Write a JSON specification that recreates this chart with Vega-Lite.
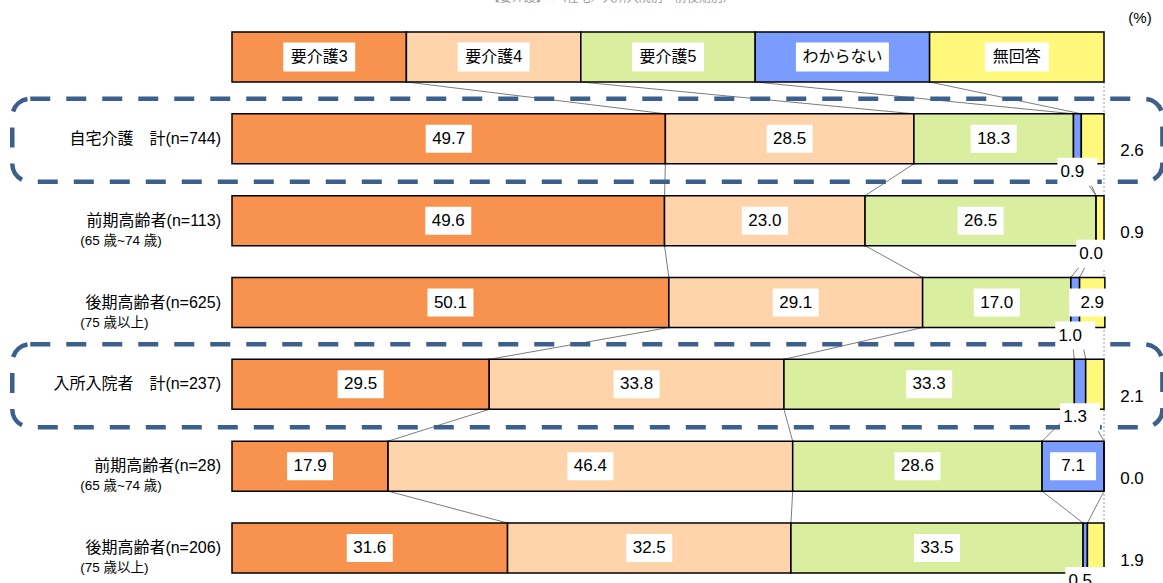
{
  "$schema": "https://vega.github.io/schema/vega-lite/v6.json",
  "width": 872,
  "height": 561,
  "autosize": {"type": "none"},
  "padding": {"left": 232, "right": 59, "top": 22, "bottom": 0},
  "background": "white",
  "config": {
    "view": {"stroke": null},
    "axis": {"disable": true},
    "text": {"font": "Liberation Sans, Noto Sans CJK JP", "color": "#000"}
  },
  "datasets": {
    "rows": [
      {"i": 0, "row": "凡例", "sub": "", "要介護3": 20, "要介護4": 20, "要介護5": 20, "わからない": 20, "無回答": 20},
      {"i": 1, "row": "自宅介護　計(n=744)", "sub": "", "要介護3": 49.7, "要介護4": 28.5, "要介護5": 18.3, "わからない": 0.9, "無回答": 2.6},
      {"i": 2, "row": "前期高齢者(n=113)", "sub": "(65 歳~74 歳)", "要介護3": 49.6, "要介護4": 23.0, "要介護5": 26.5, "わからない": 0.0, "無回答": 0.9},
      {"i": 3, "row": "後期高齢者(n=625)", "sub": "(75 歳以上)", "要介護3": 50.1, "要介護4": 29.1, "要介護5": 17.0, "わからない": 1.0, "無回答": 2.9},
      {"i": 4, "row": "入所入院者　計(n=237)", "sub": "", "要介護3": 29.5, "要介護4": 33.8, "要介護5": 33.3, "わからない": 1.3, "無回答": 2.1},
      {"i": 5, "row": "前期高齢者(n=28)", "sub": "(65 歳~74 歳)", "要介護3": 17.9, "要介護4": 46.4, "要介護5": 28.6, "わからない": 7.1, "無回答": 0.0},
      {"i": 6, "row": "後期高齢者(n=206)", "sub": "(75 歳以上)", "要介護3": 31.6, "要介護4": 32.5, "要介護5": 33.5, "わからない": 0.5, "無回答": 1.9}
    ]
  },
  "data": {"name": "rows"},
  "transform": [
    {"fold": ["要介護3", "要介護4", "要介護5", "わからない", "無回答"], "as": ["cat", "value"]},
    {"window": [{"op": "row_number", "as": "k"}], "groupby": ["row"]}
  ],
  "layer": [
    {
      "transform": [
        {"stack": "value", "groupby": ["row"], "sort": [{"field": "k", "order": "ascending"}], "as": ["x0", "x1"]},
        {"window": [{"op": "lead", "field": "x1", "as": "nx1"}, {"op": "lead", "field": "row", "as": "nrow"}], "groupby": ["cat"], "sort": [{"field": "i", "order": "ascending"}]},
        {"filter": "datum.k < 5 && datum.nrow != null"}
      ],
      "mark": {"type": "rule", "color": "#444444", "strokeWidth": 0.7},
      "encoding": {
        "x": {"field": "x1", "type": "quantitative", "scale": {"domain": [0, 100], "nice": false, "zero": false}, "axis": null},
        "x2": {"field": "nx1"},
        "y": {"field": "row", "type": "nominal", "bandPosition": 1, "axis": null},
        "y2": {"field": "nrow", "bandPosition": 0}
      }
    },
    {
      "transform": [{"filter": "datum.k == 1 && datum.i == 0"}],
      "mark": {"type": "rule", "color": "#999999", "strokeWidth": 1, "strokeDash": [2, 2]},
      "encoding": {
        "x": {"datum": 100, "type": "quantitative", "scale": {"domain": [0, 100], "nice": false, "zero": false}, "axis": null},
        "y": {"datum": "凡例", "type": "nominal", "bandPosition": 1, "axis": null},
        "y2": {"datum": "後期高齢者(n=206)", "bandPosition": 1.2}
      }
    },
    {
      "mark": {"type": "bar", "stroke": "black", "strokeWidth": 1.5},
      "encoding": {
        "x": {"field": "value", "type": "quantitative", "stack": "zero", "scale": {"domain": [0, 100], "nice": false, "zero": false}, "axis": null},
        "y": {"field": "row", "type": "nominal", "axis": null,
          "scale": {"domain": ["凡例", "自宅介護　計(n=744)", "前期高齢者(n=113)", "後期高齢者(n=625)", "入所入院者　計(n=237)", "前期高齢者(n=28)", "後期高齢者(n=206)"], "paddingInner": 0.389, "paddingOuter": 0.122}},
        "color": {"field": "cat", "type": "nominal", "legend": null,
          "scale": {"domain": ["要介護3", "要介護4", "要介護5", "わからない", "無回答"], "range": ["#F7924F", "#FFD4AA", "#D9EE9E", "#7B9CFF", "#FFF87A"]}},
        "order": {"field": "k", "type": "quantitative"}
      }
    },
    {
      "transform": [{"filter": "datum.k == 1 && indexof(datum.row, '計') >= 0"}],
      "mark": {"type": "rect", "filled": false, "stroke": "#3C5F8C", "strokeWidth": 4.5, "strokeDash": [20, 16], "cornerRadius": 18},
      "encoding": {
        "x": {"datum": -25.2, "type": "quantitative", "scale": {"domain": [0, 100], "nice": false, "zero": false}, "axis": null},
        "x2": {"datum": 106.7},
        "y": {"field": "row", "type": "nominal", "bandPosition": -0.3, "axis": null},
        "y2": {"field": "row", "bandPosition": 1.36}
      }
    },
    {
      "transform": [{"filter": "datum.row == '凡例'"}],
      "mark": {"type": "point", "filled": true, "color": "white", "opacity": 1, "strokeWidth": 0, "size": 8649},
      "encoding": {
        "x": {"field": "value", "type": "quantitative", "stack": "zero", "bandPosition": 0.5, "scale": {"domain": [0, 100], "nice": false, "zero": false}, "axis": null},
        "y": {"field": "row", "type": "nominal", "axis": null},
        "detail": {"field": "cat"},
        "order": {"field": "k", "type": "quantitative"},
        "shape": {"field": "cat", "type": "nominal", "legend": null,
          "scale": {"domain": ["要介護3", "要介護4", "要介護5", "わからない", "無回答"],
            "range": ["M-0.774,-0.312H0.774V0.312H-0.774Z", "M-0.774,-0.312H0.774V0.312H-0.774Z", "M-0.774,-0.312H0.774V0.312H-0.774Z", "M-1,-0.312H1V0.312H-1Z", "M-0.688,-0.312H0.688V0.312H-0.688Z"]}}
      }
    },
    {
      "transform": [{"filter": "datum.row == '凡例'"}],
      "mark": {"type": "text", "fontSize": 16, "align": "center", "baseline": "middle"},
      "encoding": {
        "x": {"field": "value", "type": "quantitative", "stack": "zero", "bandPosition": 0.5, "scale": {"domain": [0, 100], "nice": false, "zero": false}, "axis": null},
        "y": {"field": "row", "type": "nominal", "axis": null},
        "detail": {"field": "cat"},
        "order": {"field": "k", "type": "quantitative"},
        "text": {"field": "cat"}
      }
    },
    {
      "transform": [{"filter": "datum.row != '凡例'"}],
      "mark": {"type": "point", "filled": true, "color": "white", "strokeWidth": 0, "size": 2116, "shape": "M-1,-0.609H1V0.609H-1Z"},
      "encoding": {
        "x": {"field": "value", "type": "quantitative", "stack": "zero", "bandPosition": 0.5, "scale": {"domain": [0, 100], "nice": false, "zero": false}, "axis": null},
        "y": {"field": "row", "type": "nominal", "axis": null},
        "detail": {"field": "cat"},
        "order": {"field": "k", "type": "quantitative"},
        "opacity": {"condition": {"test": "datum.value >= 5 || (datum.row == '後期高齢者(n=625)' && datum.cat == '無回答')", "value": 1}, "value": 0}
      }
    },
    {
      "transform": [{"filter": "datum.row != '凡例'"}],
      "mark": {"type": "text", "fontSize": 17, "align": "center", "baseline": "middle"},
      "encoding": {
        "x": {"field": "value", "type": "quantitative", "stack": "zero", "bandPosition": 0.5, "scale": {"domain": [0, 100], "nice": false, "zero": false}, "axis": null},
        "y": {"field": "row", "type": "nominal", "axis": null},
        "detail": {"field": "cat"},
        "order": {"field": "k", "type": "quantitative"},
        "text": {"condition": {"test": "datum.value >= 5 || (datum.row == '後期高齢者(n=625)' && datum.cat == '無回答')", "field": "value", "type": "quantitative", "format": ".1f"}, "value": ""}
      }
    },
    {
      "transform": [{"filter": "datum.row != '凡例'"}],
      "mark": {"type": "point", "filled": true, "color": "white", "strokeWidth": 0, "size": 1600, "shape": "M-1,-0.7H1V0.7H-1Z", "dx": -5},
      "encoding": {
        "x": {"field": "value", "type": "quantitative", "stack": "zero", "bandPosition": 0.5, "scale": {"domain": [0, 100], "nice": false, "zero": false}, "axis": null},
        "y": {"field": "row", "type": "nominal", "bandPosition": 1.16, "axis": null},
        "detail": {"field": "cat"},
        "order": {"field": "k", "type": "quantitative"},
        "opacity": {"condition": {"test": "datum.cat == 'わからない' && datum.value < 5", "value": 1}, "value": 0}
      }
    },
    {
      "transform": [{"filter": "datum.row != '凡例'"}],
      "mark": {"type": "text", "fontSize": 17, "align": "center", "baseline": "middle", "dx": -5},
      "encoding": {
        "x": {"field": "value", "type": "quantitative", "stack": "zero", "bandPosition": 0.5, "scale": {"domain": [0, 100], "nice": false, "zero": false}, "axis": null},
        "y": {"field": "row", "type": "nominal", "bandPosition": 1.16, "axis": null},
        "detail": {"field": "cat"},
        "order": {"field": "k", "type": "quantitative"},
        "text": {"condition": {"test": "datum.cat == 'わからない' && datum.value < 5", "field": "value", "type": "quantitative", "format": ".1f"}, "value": ""}
      }
    },
    {
      "transform": [{"filter": "datum.cat == '無回答' && datum.row != '凡例' && datum.row != '後期高齢者(n=625)'"}],
      "mark": {"type": "text", "fontSize": 17, "align": "center", "baseline": "middle", "dx": 28},
      "encoding": {
        "x": {"datum": 100, "type": "quantitative", "scale": {"domain": [0, 100], "nice": false, "zero": false}, "axis": null},
        "y": {"field": "row", "type": "nominal", "bandPosition": 0.75, "axis": null},
        "text": {"field": "value", "type": "quantitative", "format": ".1f"}
      }
    },
    {
      "transform": [{"filter": "datum.k == 1 && datum.row != '凡例'"}],
      "mark": {"type": "text", "fontSize": 16, "align": "right", "baseline": "middle", "dx": -11},
      "encoding": {
        "x": {"datum": 0, "type": "quantitative", "scale": {"domain": [0, 100], "nice": false, "zero": false}, "axis": null},
        "y": {"field": "row", "type": "nominal", "axis": null},
        "text": {"field": "row"}
      }
    },
    {
      "transform": [{"filter": "datum.k == 1 && datum.sub != ''"}],
      "mark": {"type": "text", "fontSize": 13.5, "align": "left", "baseline": "middle", "dy": 20},
      "encoding": {
        "x": {"datum": -17.4, "type": "quantitative", "scale": {"domain": [0, 100], "nice": false, "zero": false}, "axis": null},
        "y": {"field": "row", "type": "nominal", "axis": null},
        "text": {"field": "sub"}
      }
    },
    {
      "transform": [{"filter": "datum.k == 1 && datum.i == 0"}],
      "mark": {"type": "text", "fontSize": 15, "align": "center", "baseline": "middle", "dx": 36},
      "encoding": {
        "x": {"datum": 100, "type": "quantitative", "scale": {"domain": [0, 100], "nice": false, "zero": false}, "axis": null},
        "y": {"datum": "凡例", "type": "nominal", "bandPosition": -0.28, "axis": null},
        "text": {"value": "(%)"}
      }
    },
    {
      "transform": [{"filter": "datum.k == 1 && datum.i == 0"}],
      "mark": {"type": "text", "fontSize": 12, "align": "center", "baseline": "middle", "color": "#9a9a9a"},
      "encoding": {
        "x": {"datum": 43.5, "type": "quantitative", "scale": {"domain": [0, 100], "nice": false, "zero": false}, "axis": null},
        "y": {"datum": "凡例", "type": "nominal", "bandPosition": -0.68, "axis": null},
        "text": {"value": "【要介護】×（在宅／入所入院別・前後期別）"}
      }
    }
  ]
}
